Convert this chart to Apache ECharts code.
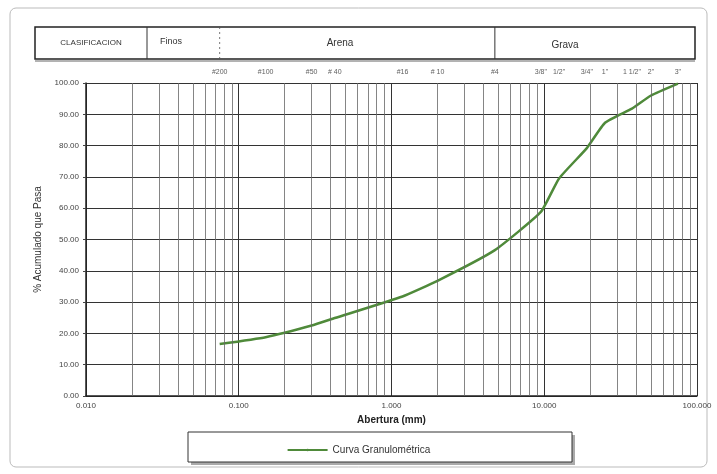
<!DOCTYPE html>
<html>
<head>
<meta charset="utf-8">
<script src="https://cdn.jsdelivr.net/npm/echarts@6/dist/echarts.min.js"></script>
<style>
  html, body { margin: 0; padding: 0; background: #fff; }
  #chart { width: 717px; height: 474px; }
</style>
</head>
<body>
<div id="chart"></div>
<script>
// tamices y abertura (mm)
const sieveNames = ['#200', '#100', '#50', '# 40', '#16', '# 10', '#4', '3/8"', '1/2"', '3/4"', '1"', '1 1/2"', '2"', '3"'];
const sieveSizes = [0.075, 0.15, 0.3, 0.425, 1.18, 2.0, 4.75, 9.5, 12.5, 19, 25, 37.5, 50, 75];
// % acumulado que pasa
const passing = [16.6, 18.8, 22.5, 24.9, 31.8, 36.8, 46.6, 58.8, 69.5, 79.2, 87.3, 91.8, 96.0, 99.8];
const yTicks = [0, 10, 20, 30, 40, 50, 60, 70, 80, 90, 100];
const classNames = ['CLASIFICACION', 'Finos', 'Arena', 'Grava'];

const lineColor = '#4f8a3a';
const fontFamily = '"Liberation Sans", Arial, sans-serif';

// lineas menores de la escala log (2..9 en cada decada)
const minorLines = [];
for (let d = -2; d < 2; d++) {
  for (let k = 2; k <= 9; k++) {
    minorLines.push({ xAxis: k * Math.pow(10, d) });
  }
}

const chart = echarts.init(document.getElementById('chart'));

chart.setOption({
  animation: false,
  backgroundColor: '#fff',
  textStyle: { fontFamily },
  grid: { left: 86, right: 20, top: 83, bottom: 78 },
  legend: {
    data: ['Curva Granulométrica'],
    top: 440,
    left: 'center',
    itemWidth: 40,
    itemHeight: 3,
    itemGap: 2,
    textStyle: { fontSize: 10, color: '#333', fontFamily }
  },
  xAxis: {
    type: 'log',
    logBase: 10,
    min: 0.01,
    max: 100,
    name: 'Abertura (mm)',
    nameLocation: 'middle',
    nameGap: 16,
    nameTextStyle: { fontSize: 10, fontWeight: 'bold', color: '#222' },
    axisLine: { lineStyle: { color: '#222', width: 1.5 } },
    axisTick: { show: false },
    axisLabel: {
      fontSize: 8,
      color: '#444',
      margin: 6,
      formatter: v => v.toFixed(3)
    },
    splitLine: { show: true, lineStyle: { color: '#333', width: 1 } }
  },
  yAxis: {
    type: 'value',
    min: 0,
    max: 100,
    interval: 10,
    name: '% Acumulado que Pasa',
    nameLocation: 'middle',
    nameGap: 40,
    nameTextStyle: { fontSize: 10, color: '#333' },
    axisLine: { show: true, lineStyle: { color: '#222', width: 1.5 } },
    axisTick: { show: true, length: 3, lineStyle: { color: '#444' } },
    axisLabel: {
      fontSize: 8,
      color: '#444',
      margin: 7,
      formatter: v => v.toFixed(2)
    },
    splitLine: { show: true, lineStyle: { color: '#333', width: 1 } }
  },
  series: [
    {
      name: 'Curva Granulométrica',
      type: 'line',
      symbol: 'none',
      smooth: 0.15,
      data: sieveSizes.map((s, i) => [s, passing[i]]),
      lineStyle: { color: lineColor, width: 2.5 },
      itemStyle: { color: lineColor },
      markLine: {
        silent: true,
        symbol: 'none',
        label: { show: false },
        lineStyle: { color: '#666', width: 0.8, type: 'solid' },
        data: minorLines
      },
      z: 3
    },
    {
      name: 'tamices',
      type: 'scatter',
      symbolSize: 0,
      silent: true,
      data: sieveSizes.map((s, i) => ({ value: [s, 100], name: sieveNames[i] })),
      label: {
        show: true,
        position: 'top',
        distance: 7,
        formatter: p => p.name,
        fontSize: 7,
        color: '#333'
      }
    }
  ]
});

// tabla de clasificacion y caja de la leyenda
const xFinos = chart.convertToPixel({ xAxisIndex: 0 }, sieveSizes[0]);
const xArena = chart.convertToPixel({ xAxisIndex: 0 }, sieveSizes[6]);
const tLeft = 35, tRight = 695, tTop = 27, tBot = 59, tMid = (tTop + tBot) / 2;

chart.setOption({
  graphic: [
    {
      type: 'rect',
      silent: true,
      shape: { x: 10, y: 8, width: 697, height: 459, r: 6 },
      style: { fill: 'none', stroke: '#bbb', lineWidth: 1 },
      z: -10
    },
    {
      type: 'rect',
      silent: true,
      shape: { x: tLeft, y: tTop, width: tRight - tLeft, height: tBot - tTop },
      style: { fill: '#fff', stroke: '#222', lineWidth: 1.5 }
    },
    {
      type: 'line',
      silent: true,
      shape: { x1: tLeft, y1: tBot + 2, x2: tRight, y2: tBot + 2 },
      style: { stroke: '#666', lineWidth: 1 }
    },
    {
      type: 'line',
      silent: true,
      shape: { x1: 147, y1: tTop, x2: 147, y2: tBot },
      style: { stroke: '#333', lineWidth: 1 }
    },
    {
      type: 'line',
      silent: true,
      shape: { x1: xFinos, y1: tTop, x2: xFinos, y2: tBot },
      style: { stroke: '#555', lineWidth: 0.8, lineDash: [2, 3] }
    },
    {
      type: 'line',
      silent: true,
      shape: { x1: xArena, y1: tTop, x2: xArena, y2: tBot },
      style: { stroke: '#333', lineWidth: 1 }
    },
    {
      type: 'text', silent: true, x: (tLeft + 147) / 2, y: tMid,
      style: { text: classNames[0], fontSize: 8, fill: '#333', align: 'center', verticalAlign: 'middle', fontFamily }
    },
    {
      type: 'text', silent: true, x: 160, y: tMid - 1,
      style: { text: classNames[1], fontSize: 9, fill: '#333', align: 'left', verticalAlign: 'middle', fontFamily }
    },
    {
      type: 'text', silent: true, x: 340, y: tMid,
      style: { text: classNames[2], fontSize: 10, fill: '#333', align: 'center', verticalAlign: 'middle', fontFamily }
    },
    {
      type: 'text', silent: true, x: 565, y: tMid + 2,
      style: { text: classNames[3], fontSize: 10, fill: '#333', align: 'center', verticalAlign: 'middle', fontFamily }
    },
    {
      type: 'rect',
      silent: true,
      shape: { x: 191, y: 435, width: 384, height: 30 },
      style: { fill: '#aaa' },
      z: -2
    },
    {
      type: 'rect',
      silent: true,
      shape: { x: 188, y: 432, width: 384, height: 30 },
      style: { fill: '#fff', stroke: '#333', lineWidth: 1 },
      z: -1
    }
  ]
});
</script>
</body>
</html>
